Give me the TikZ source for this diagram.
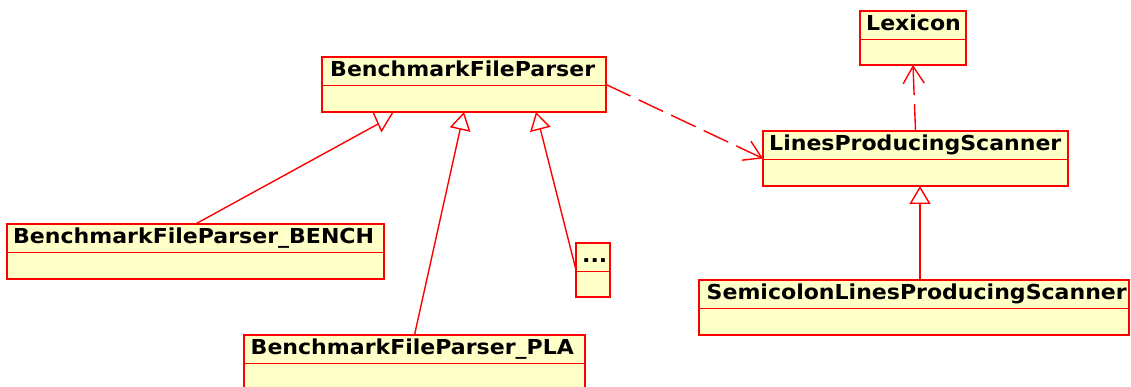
\documentclass[tikz,border=0pt]{standalone}
\usepackage{fontspec}
\newfontfamily\umlfont[FakeStretch=1.07]{DejaVu Sans}
\usetikzlibrary{arrows.meta,calc}
\definecolor{umlfill}{RGB}{255,255,200}
\definecolor{umlred}{RGB}{255,0,0}

% class box: name, top-left corner, width, height, title, title indent
% the lower compartment is a second box sharing the bottom edge
\newcommand\umlclass[6]{%
  \node[classbox, minimum width=#3pt, minimum height=#4pt] (#1) at (#2) {};
  \node[classbox, anchor=south west, minimum width=#3pt,
        minimum height={#4pt-28.5pt}] (#1-body) at (#1.south west) {};
  \node[classname] at ($(#1.north west)+(#6,19.5)$) {#5};
}

\begin{document}
\begin{tikzpicture}[x=1pt,y=-1pt,
  classbox/.style={draw=umlred, fill=umlfill, line width=1.8pt,
    inner sep=0pt, outer sep=0pt, anchor=north west},
  classname/.style={anchor=base west, inner sep=0pt,
    font=\umlfont\fontsize{20.6}{24}\selectfont\bfseries},
  edge/.style={draw=umlred, line width=1.4pt},
  gen/.style={edge, -{Triangle[open, length=18pt, width=21pt, line width=1.4pt]}},
  dep/.style={edge, dash pattern=on 27pt off 9pt,
    -{Straight Barb[length=17pt, width=21pt, line width=1.4pt]}},
]
\useasboundingbox (0,0) rectangle (1131,387);

\umlclass{bfp}{322,57}{284}{55}{BenchmarkFileParser}{8}
\umlclass{lex}{860,11}{106}{54}{Lexicon}{6}
\umlclass{lps}{763,131}{305}{55}{LinesProducingScanner}{6}
\umlclass{bench}{7,224}{377}{55}{BenchmarkFileParser\_BENCH}{6}
\umlclass{dots}{576,243}{34}{54}{...}{6}
\umlclass{pla}{244,335}{341}{56}{BenchmarkFileParser\_PLA}{6.5}
\umlclass{semi}{699,280}{430}{55}{SemicolonLinesProducingScanner}{7.5}

% generalisations towards BenchmarkFileParser
\draw[gen] (pla.north) -- (bfp.south);
\draw[gen] (dots.west) -- ($(bfp.south)+(72,0)$);
\coordinate (benchjoin) at (378,124);
\draw[edge] (bench.north) -- (benchjoin);
\draw[edge, line join=miter]
  ($(bfp.south)+(-91,0)$) -- ($(bfp.south)+(-71,0)$) -- ($(bfp.south)+(-82.5,19)$) -- cycle;

% generalisation towards LinesProducingScanner
\coordinate (lpsin) at ($(lps.south)+(4.5,0)$);
\draw[gen] (lpsin |- semi.north) -- (lpsin);

% dependencies
\draw[dep] (bfp.east) -- (lps.west);
\draw[dep] (lps.north) -- (lex.south);
\end{tikzpicture}
\end{document}
